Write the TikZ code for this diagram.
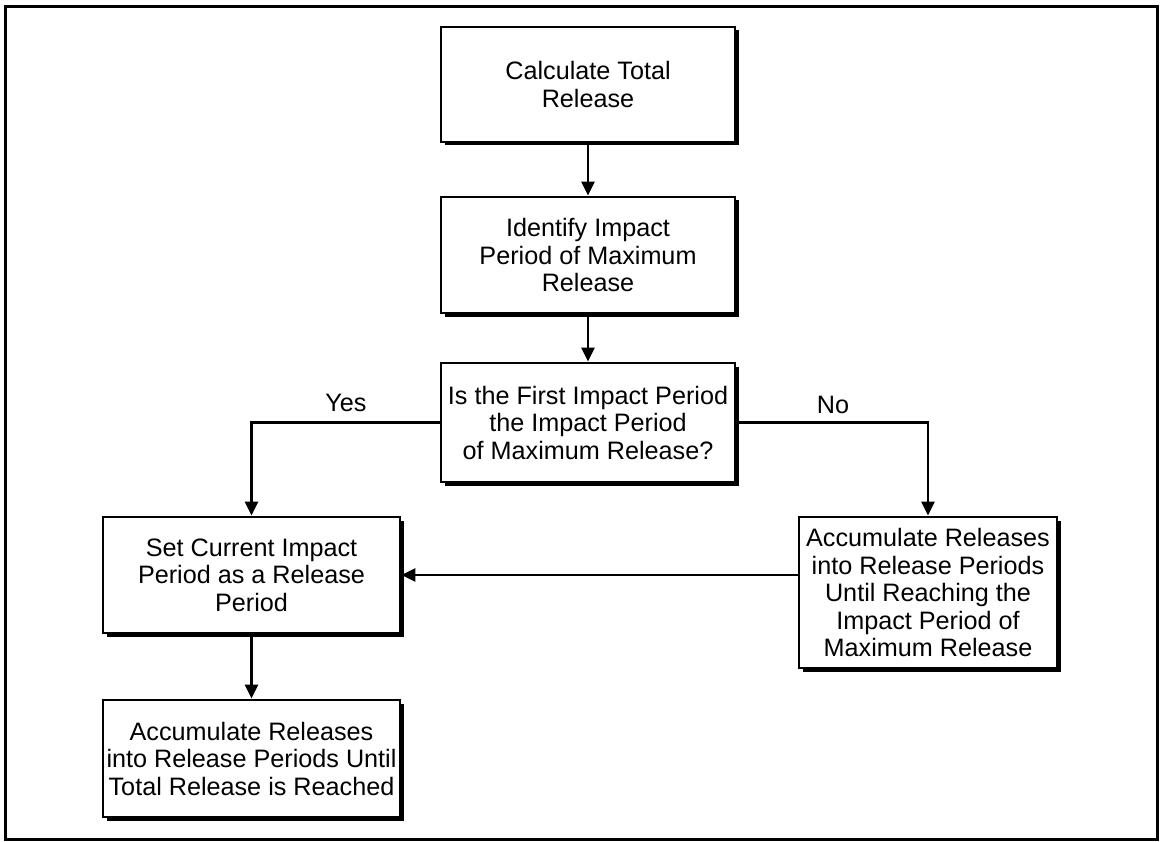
\documentclass[tikz,border=0pt]{standalone}
\usepackage{fontspec}
\setmainfont{Liberation Sans}
\usetikzlibrary{arrows.meta,shadows}
\begin{document}
\begin{tikzpicture}[x=1pt,y=-1pt,
  box/.style={draw=black, line width=2.8pt, fill=white, inner sep=0pt, align=center,
    font=\fontsize{25.2}{27.5}\selectfont,
    drop shadow={shadow xshift=3.5pt, shadow yshift=-3.5pt, fill=black, opacity=1}},
  conn/.style={line width=2.6pt, -{Triangle[length=14pt,width=13pt]}},
  lbl/.style={font=\fontsize{25.2}{27.5}\selectfont, inner sep=0pt}]
\useasboundingbox (0,0) rectangle (1161,842);
\draw[line width=3pt] (5,7) rectangle (1157,839);

\node[box, minimum width=294pt, minimum height=115pt] (b1) at (588,84.5) {Calculate Total\\Release};
\node[box, minimum width=294pt, minimum height=116pt] (b2) at (588,255) {Identify Impact\\Period of Maximum\\Release};
\node[box, minimum width=294pt, minimum height=119pt] (b3) at (588,422.5) {Is the First Impact Period\\the Impact Period\\of Maximum Release?};
\node[box, minimum width=297pt, minimum height=116pt] (b4) at (251.5,575) {Set Current Impact\\Period as a Release\\Period};
\node[box, minimum width=297pt, minimum height=117pt] (b5) at (251.5,758.5) {Accumulate Releases\\into Release Periods Until\\Total Release is Reached};
\node[box, minimum width=258pt, minimum height=151pt] (b6) at (928,592.5) {Accumulate Releases\\into Release Periods\\Until Reaching the\\Impact Period of\\Maximum Release};

\draw[conn] (b1) -- (b2);
\draw[conn] (b2) -- (b3);
\draw[conn] (b3.west) -| (b4.north);
\draw[conn] (b3.east) -| (b6.north);
\draw[conn] (b4.east -| b6.west) -- (b4.east);
\draw[conn] (b4) -- (b5);

\node[lbl] (yes) at (346,403) {Yes};
\node[lbl] (no) at (833,405) {No};
\end{tikzpicture}
\end{document}
